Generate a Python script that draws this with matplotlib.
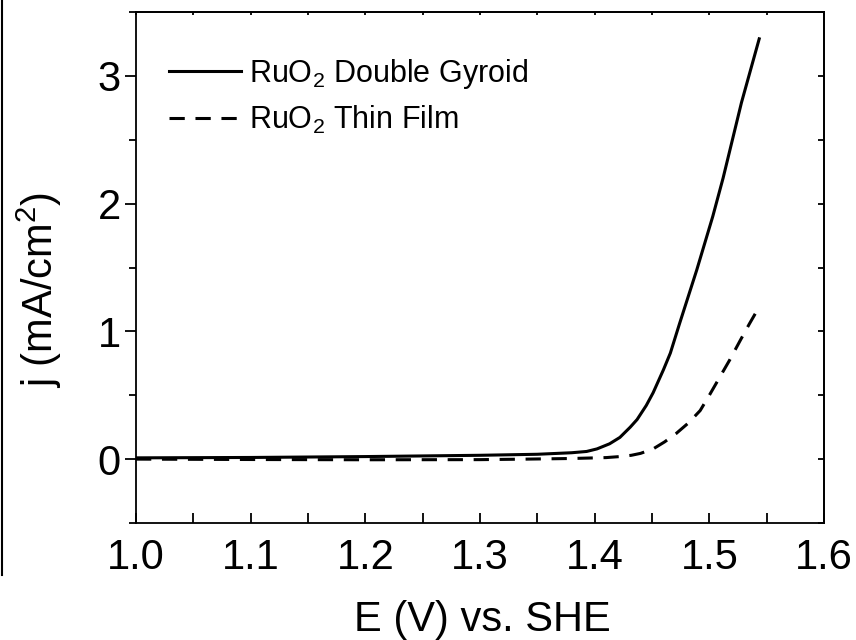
import matplotlib
matplotlib.use("Agg")
import matplotlib.pyplot as plt
from matplotlib.lines import Line2D
from matplotlib.ticker import MultipleLocator, NullFormatter

plt.rcParams["font.family"] = ["Liberation Sans", "DejaVu Sans"]
plt.rcParams["mathtext.fontset"] = "custom"
plt.rcParams["mathtext.rm"] = "Liberation Sans"
plt.rcParams["mathtext.it"] = "Liberation Sans"

# RuO2 double gyroid
e_gyroid = [1.000, 1.100, 1.200, 1.300, 1.350, 1.380, 1.393, 1.402, 1.413, 1.422, 1.431,
            1.437, 1.445, 1.451, 1.460, 1.466, 1.474, 1.489, 1.503, 1.512, 1.528, 1.5435]
j_gyroid = [0.010, 0.013, 0.020, 0.030, 0.038, 0.050, 0.060, 0.080, 0.120, 0.170, 0.250,
            0.310, 0.420, 0.520, 0.700, 0.830, 1.060, 1.480, 1.900, 2.200, 2.790, 3.290]

# RuO2 thin film
e_film = [1.000, 1.100, 1.200, 1.300, 1.340, 1.380, 1.410, 1.422, 1.432, 1.440, 1.451,
          1.461, 1.471, 1.482, 1.492, 1.500, 1.509, 1.518, 1.527, 1.535, 1.544]
j_film = [0.000, -0.003, -0.005, -0.004, 0.000, 0.005, 0.012, 0.020, 0.030, 0.045, 0.080,
          0.135, 0.200, 0.285, 0.380, 0.500, 0.640, 0.780, 0.930, 1.060, 1.200]

labels = ["RuO$_2$ Double Gyroid", "RuO$_2$ Thin Film"]

fig = plt.figure(figsize=(8.56, 6.4), dpi=100)
ax = fig.add_axes([136 / 856, 117 / 640, 688 / 856, 511 / 640])

ax.plot(e_gyroid, j_gyroid, color="black", lw=2.2, label=labels[0])
ax.plot(e_film, j_film, color="black", lw=2.2, ls=(0, (5, 3.5)), label=labels[1])

ax.set_xlim(1.0, 1.6)
ax.set_ylim(-0.5, 3.5)
ax.xaxis.set_major_locator(MultipleLocator(0.1))
ax.xaxis.set_minor_locator(MultipleLocator(0.05))
ax.yaxis.set_major_locator(MultipleLocator(1))
ax.yaxis.set_minor_locator(MultipleLocator(0.5))
ax.xaxis.set_major_formatter(plt.FormatStrFormatter("%.1f"))

for s in ax.spines.values():
    s.set_linewidth(1.3)

ax.tick_params(axis="x", which="both", direction="in", length=7, width=1.3,
               labelsize=30, pad=11)
ax.tick_params(axis="y", which="major", direction="out", length=8, width=1.3,
               labelsize=30, pad=3)
ax.tick_params(axis="y", which="minor", direction="out", length=5, width=1.3)

# small inward ticks on top and right frame
top = ax.secondary_xaxis("top")
top.xaxis.set_major_locator(MultipleLocator(0.05))
top.xaxis.set_major_formatter(NullFormatter())
top.tick_params(direction="in", length=2.5, width=1.3)
top.spines["top"].set_linewidth(1.3)
right = ax.secondary_yaxis("right")
right.yaxis.set_major_locator(MultipleLocator(0.5))
right.yaxis.set_major_formatter(NullFormatter())
right.tick_params(direction="in", length=4, width=1.3)
right.spines["right"].set_linewidth(1.3)

ax.set_xlabel("E (V) vs. SHE", fontsize=30)
ax.xaxis.set_label_coords(0.503, -0.15)
ax.set_ylabel("j (mA/cm$^2$)", fontsize=30)
ax.yaxis.set_label_coords(-0.105, 0.456)

ax.legend(loc="upper left", bbox_to_anchor=(0.048, 0.912), frameon=False,
          fontsize=22, handlelength=2.35, handletextpad=0.26, labelspacing=0.42,
          borderaxespad=0, borderpad=0)

# stray vertical rule at the left edge of the source image
fig.add_artist(Line2D([2 / 856, 2 / 856], [1.0, 1 - 575 / 640], color="black", lw=1.5))

fig.savefig("out.png", dpi=100)
